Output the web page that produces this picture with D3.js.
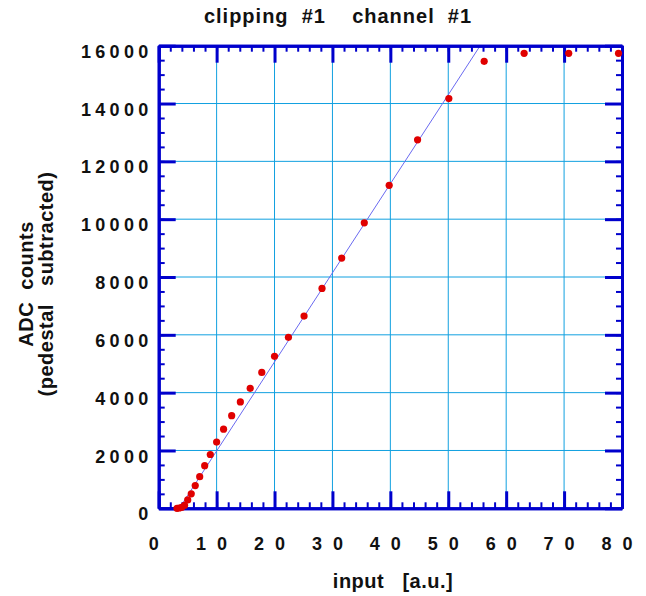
<!DOCTYPE html>
<html>
<head>
<meta charset="utf-8">
<script src="https://cdn.jsdelivr.net/npm/d3@7"></script>
<style>
  body { margin: 0; background: #fff; }
  svg { display: block; }
  text { font-family: "Liberation Sans", Arial, sans-serif; font-weight: bold; fill: #111; }
</style>
</head>
<body>
<div id="chart"></div>
<script>
// values
var inputValues = [3.16, 3.55, 3.98, 4.47, 5.01, 5.62, 6.31, 7.08, 7.94, 8.91,
                   10.0, 11.2, 12.6, 14.1, 15.8, 17.8, 20.0, 22.4, 25.1, 28.2,
                   31.6, 35.5, 39.8, 44.7, 50.1, 56.2, 63.1, 70.8, 79.4];
var adcCounts = [0, 10, 35, 105, 290, 500, 785, 1095, 1475, 1860,
                 2290, 2735, 3205, 3680, 4150, 4700, 5255, 5915, 6650, 7605,
                 8655, 9875, 11170, 12745, 14170, 15460, 15735, 15735, 15735];
var xTicks = [0, 10, 20, 30, 40, 50, 60, 70, 80];
var yTicks = [0, 2000, 4000, 6000, 8000, 10000, 12000, 14000, 16000];
var xMinorTicks = d3.range(0, 81, 2);
var yMinorTicks = d3.range(0, 16001, 500);
// straight line fit shown on the plot
var fitSlope = 308;
var fitIntercept = -1097;

var W = 646, H = 596;
var margin = {top: 45.7, right: 24, bottom: 87.7, left: 158.7};
var width = W - margin.left - margin.right;
var height = H - margin.top - margin.bottom;

var axisColor = "#0000cc";
var gridColor = "#10a0e0";

var svg = d3.select("#chart").append("svg")
    .attr("width", W)
    .attr("height", H);

var g = svg.append("g")
    .attr("transform", "translate(" + margin.left + "," + margin.top + ")");

var x = d3.scaleLinear().domain([0, 80]).range([0, width]);
var y = d3.scaleLinear().domain([0, 16000]).range([height, 0]);

// grid
g.append("g").selectAll("line")
    .data(xTicks.slice(1, -1))
    .enter().append("line")
    .attr("x1", function(d) { return x(d); })
    .attr("x2", function(d) { return x(d); })
    .attr("y1", 0).attr("y2", height)
    .attr("stroke", gridColor).attr("stroke-width", 1);

g.append("g").selectAll("line")
    .data(yTicks.slice(1, -1))
    .enter().append("line")
    .attr("y1", function(d) { return y(d); })
    .attr("y2", function(d) { return y(d); })
    .attr("x1", 0).attr("x2", width)
    .attr("stroke", gridColor).attr("stroke-width", 1);

// fit line
svg.append("clipPath").attr("id", "plotclip")
    .append("rect").attr("width", width).attr("height", height);

var fitX0 = -fitIntercept / fitSlope;
var fitX1 = (16000 - fitIntercept) / fitSlope;
var fitLine = d3.line()
    .x(function(d) { return x(d); })
    .y(function(d) { return y(fitSlope * d + fitIntercept); });

g.append("path")
    .datum([fitX0, fitX1])
    .attr("clip-path", "url(#plotclip)")
    .attr("fill", "none")
    .attr("stroke", "#6a6af0")
    .attr("stroke-width", 1)
    .attr("d", fitLine);

// axes: minor ticks, major ticks, all inward
function styleAxis(sel, w) {
    sel.selectAll("path.domain").attr("stroke", axisColor).attr("stroke-width", 3);
    sel.selectAll(".tick line").attr("stroke", axisColor).attr("stroke-width", w);
}

var axes = [
    {f: d3.axisBottom, t: "translate(0," + height + ")", s: x, minor: xMinorTicks, major: xTicks},
    {f: d3.axisTop, t: "translate(0,0)", s: x, minor: xMinorTicks, major: xTicks},
    {f: d3.axisLeft, t: "translate(0,0)", s: y, minor: yMinorTicks, major: yTicks},
    {f: d3.axisRight, t: "translate(" + width + ",0)", s: y, minor: yMinorTicks, major: yTicks}
];

axes.forEach(function(a) {
    var minorG = g.append("g").attr("transform", a.t)
        .call(a.f(a.s).tickValues(a.minor).tickSize(-6).tickSizeOuter(0).tickFormat(""));
    styleAxis(minorG, 2);
    var majorG = g.append("g").attr("transform", a.t)
        .call(a.f(a.s).tickValues(a.major).tickSize(-17).tickSizeOuter(0).tickFormat(""));
    styleAxis(majorG, 3);
});

// tick labels
var xLabels = g.append("g")
    .attr("transform", "translate(0," + height + ")")
    .call(d3.axisBottom(x).tickValues(xTicks).tickSize(0).tickPadding(28.5).tickFormat(d3.format("d")));
xLabels.select("path.domain").remove();
xLabels.selectAll("text")
    .attr("fill", "#111")
    .style("font-family", "'Liberation Sans', Arial, sans-serif")
    .style("font-weight", "bold")
    .style("font-size", "18px")
    .style("letter-spacing", "11px");

var yLabels = g.append("g")
    .call(d3.axisLeft(y).tickValues(yTicks).tickSize(0).tickPadding(6.2).tickFormat(d3.format("d")));
yLabels.select("path.domain").remove();
yLabels.selectAll("text")
    .attr("fill", "#111")
    .attr("dy", "0.64em")
    .style("font-family", "'Liberation Sans', Arial, sans-serif")
    .style("font-weight", "bold")
    .style("font-size", "18px")
    .style("letter-spacing", "4.3px");

// data points
g.append("g").selectAll("circle")
    .data(inputValues)
    .enter().append("circle")
    .attr("cx", function(d) { return x(d); })
    .attr("cy", function(d, i) { return y(adcCounts[i]); })
    .attr("r", 3.6)
    .attr("fill", "#e00000");

// titles
svg.append("text")
    .attr("x", 338).attr("y", 23)
    .attr("text-anchor", "middle")
    .style("font-size", "20px")
    .style("letter-spacing", "1px")
    .style("white-space", "pre")
    .text("clipping  #1    channel  #1");

svg.append("text")
    .attr("x", 393).attr("y", 588)
    .attr("text-anchor", "middle")
    .style("font-size", "20px")
    .style("letter-spacing", "0.5px")
    .style("white-space", "pre")
    .text("input   [a.u.]");

svg.append("text")
    .attr("transform", "translate(33,284) rotate(-90)")
    .attr("text-anchor", "middle")
    .style("font-size", "20px")
    .style("letter-spacing", "0.5px")
    .style("white-space", "pre")
    .text("ADC  counts");

svg.append("text")
    .attr("transform", "translate(53,284) rotate(-90)")
    .attr("text-anchor", "middle")
    .style("font-size", "20px")
    .style("letter-spacing", "0.5px")
    .style("white-space", "pre")
    .text("(pedestal   subtracted)");
</script>
</body>
</html>
